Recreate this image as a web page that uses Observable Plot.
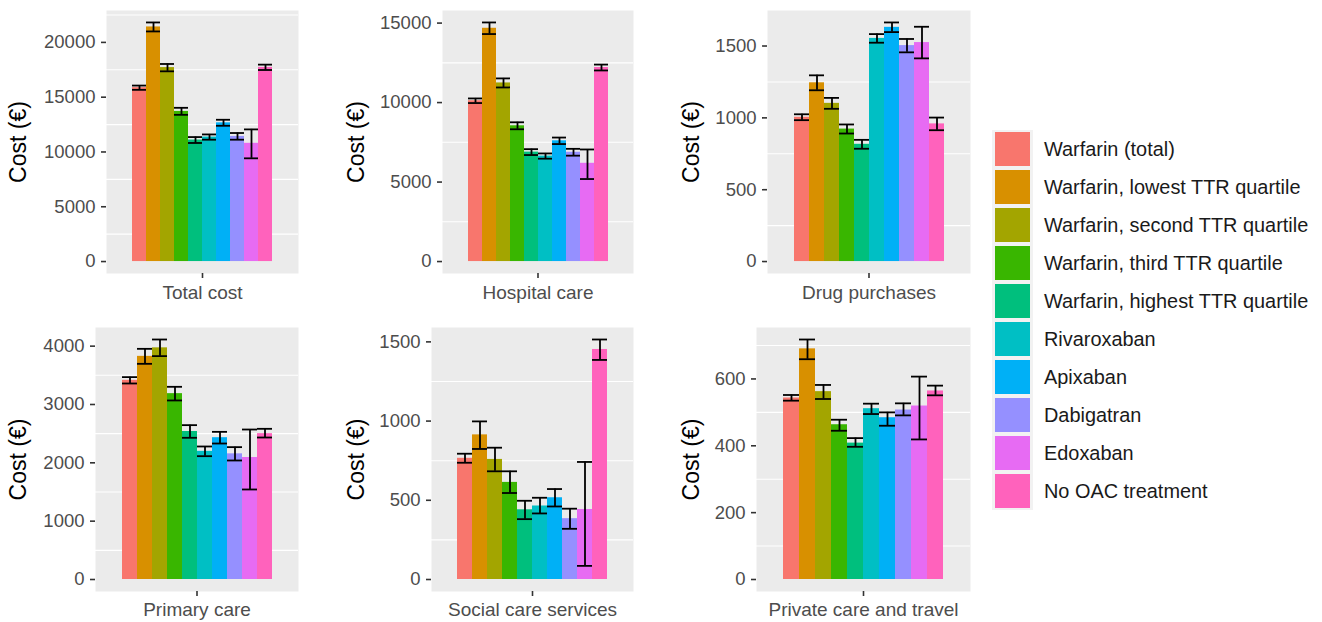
<!DOCTYPE html>
<html><head><meta charset="utf-8">
<script src="https://cdn.jsdelivr.net/npm/d3@7"></script>
<script src="https://cdn.jsdelivr.net/npm/@observablehq/plot@0.6"></script>
<style>
body{margin:0;background:#fff;font-family:"Liberation Sans",Arial,Helvetica,sans-serif;}
#wrap{position:relative;width:1322px;height:622px;overflow:hidden;}
.cell{position:absolute;}
.cell svg{background:transparent !important;overflow:visible;}
#legend{position:absolute;left:992px;top:130px;}
.item{display:flex;align-items:center;height:38px;}
.key{width:41px;height:38px;background:#f2f2f2;display:flex;align-items:center;justify-content:center;}
.sw{width:35px;height:34px;}
.lab{margin-left:11px;font-size:19.9px;color:#1a1a1a;white-space:nowrap;}
</style></head><body><div id="wrap"></div>
<script>
// ---- data ----
const series = ["Warfarin (total)", "Warfarin, lowest TTR quartile", "Warfarin, second TTR quartile",
  "Warfarin, third TTR quartile", "Warfarin, highest TTR quartile", "Rivaroxaban", "Apixaban",
  "Dabigatran", "Edoxaban", "No OAC treatment"];
const colors = ["#F8766D", "#D89000", "#A3A500", "#39B600", "#00BF7D", "#00BFC4", "#00B0F6", "#9590FF", "#E76BF3", "#FF62BC"];
const categories = ["Total cost", "Hospital care", "Drug purchases", "Primary care", "Social care services", "Private care and travel"];

const meanTotal = [15870, 21410, 17700, 13700, 11090, 11360, 12660, 11420, 10790, 17720];
const loTotal   = [15670, 21000, 17360, 13390, 10820, 11120, 12390, 11120, 9420, 17480];
const hiTotal   = [16060, 21820, 18030, 14030, 11360, 11600, 12940, 11730, 12060, 17970];

const meanHospital = [10115, 14675, 11235, 8540, 6885, 6635, 7595, 6875, 6180, 12205];
const loHospital   = [9970, 14310, 10950, 8320, 6700, 6470, 7390, 6660, 5190, 12020];
const hiHospital   = [10260, 15040, 11520, 8760, 7070, 6800, 7800, 7090, 7050, 12390];

const meanDrug = [1004, 1244, 1101, 922, 816, 1553, 1630, 1503, 1524, 958];
const loDrug   = [984, 1192, 1063, 891, 785, 1523, 1597, 1456, 1414, 914];
const hiDrug   = [1025, 1296, 1139, 954, 847, 1583, 1664, 1549, 1634, 1002];

const meanPrimary = [3414, 3825, 3971, 3186, 2537, 2197, 2431, 2154, 2091, 2500];
const loPrimary   = [3360, 3697, 3829, 3069, 2429, 2114, 2331, 2040, 1543, 2434];
const hiPrimary   = [3469, 3954, 4114, 3303, 2646, 2280, 2531, 2269, 2571, 2583];

const meanSocial = [765, 913, 758, 613, 440, 464, 516, 384, 442, 1452];
const loSocial   = [737, 824, 683, 546, 381, 417, 461, 320, 86, 1386];
const hiSocial   = [794, 998, 832, 683, 497, 516, 571, 447, 742, 1515];

const meanPrivate = [543, 690, 562, 463, 408, 511, 484, 507, 519, 564];
const loPrivate   = [535, 659, 540, 445, 397, 495, 460, 491, 419, 551];
const hiPrivate   = [552, 718, 582, 478, 423, 526, 500, 527, 607, 580];

const ticksTotal = [0, 5000, 10000, 15000, 20000];
const gridTotal = [2500, 7500, 12500, 17500, 22500];
const ticksHospital = [0, 5000, 10000, 15000];
const gridHospital = [2500, 7500, 12500];
const ticksDrug = [0, 500, 1000, 1500];
const gridDrug = [250, 750, 1250];
const ticksPrimary = [0, 1000, 2000, 3000, 4000];
const gridPrimary = [500, 1500, 2500, 3500];
const ticksSocial = [0, 500, 1000, 1500];
const gridSocial = [250, 750, 1250];
const ticksPrivate = [0, 200, 400, 600];
const gridPrivate = [100, 300, 500, 700];

// ---- layout ----
const FONT = "'Liberation Sans', Arial, Helvetica, sans-serif";
const panels = [
  {cat: categories[0], mean: meanTotal, lo: loTotal, hi: hiTotal, ticks: ticksTotal, grid: gridTotal,
   box: {left: 0, top: 0, width: 330, height: 310, ml: 106, mr: 32, mt: 10, mb: 37, pad: 7, tx: 18.5}},
  {cat: categories[1], mean: meanHospital, lo: loHospital, hi: hiHospital, ticks: ticksHospital, grid: gridHospital,
   box: {left: 330, top: 0, width: 335, height: 310, ml: 112, mr: 32, mt: 10, mb: 37, pad: 7, tx: 26.5}},
  {cat: categories[2], mean: meanDrug, lo: loDrug, hi: hiDrug, ticks: ticksDrug, grid: gridDrug,
   box: {left: 665, top: 0, width: 320, height: 310, ml: 102, mr: 15, mt: 10, mb: 37, pad: 7, tx: 26.5}},
  {cat: categories[3], mean: meanPrimary, lo: loPrimary, hi: hiPrimary, ticks: ticksPrimary, grid: gridPrimary,
   box: {left: 0, top: 310, width: 330, height: 312, ml: 95, mr: 32, mt: 17, mb: 31, pad: 6, tx: 18.5}},
  {cat: categories[4], mean: meanSocial, lo: loSocial, hi: hiSocial, ticks: ticksSocial, grid: gridSocial,
   box: {left: 330, top: 310, width: 335, height: 312, ml: 101, mr: 32, mt: 17, mb: 31, pad: 6, tx: 26.5}},
  {cat: categories[5], mean: meanPrivate, lo: loPrivate, hi: hiPrivate, ticks: ticksPrivate, grid: gridPrivate,
   box: {left: 665, top: 310, width: 320, height: 312, ml: 91, mr: 15, mt: 17, mb: 31, pad: 6, tx: 26.5}}
];

const wrap = document.getElementById("wrap");

for (const p of panels) {
  const b = p.box;
  const rows = series.map((s, i) => ({series: s, mean: p.mean[i], lo: p.lo[i], hi: p.hi[i], category: p.cat}));
  const ymax = d3.max(p.hi);
  const pw = b.width - b.ml - b.mr;
  const chart = Plot.plot({
    width: b.width, height: b.height,
    marginLeft: b.ml, marginRight: b.mr, marginTop: b.mt, marginBottom: b.mb,
    style: {background: "transparent", fontFamily: FONT, overflow: "visible"},
    facet: {data: rows, x: "category"},
    fx: {padding: 0, domain: [p.cat]},
    x: {domain: series, padding: 0, insetLeft: pw * 0.125, insetRight: pw * 0.125, axis: null},
    y: {domain: [-0.05 * ymax, 1.05 * ymax]},
    color: {domain: series, range: colors},
    marks: [
      Plot.frame({fill: "#EBEBEB"}),
      Plot.ruleY(p.grid, {stroke: "white", strokeWidth: 1.1}),
      Plot.barY(rows, {x: "series", y: "mean", fill: "series"}),
      Plot.ruleX(rows, {x: "series", y1: "lo", y2: "hi", stroke: "black", strokeWidth: 1.8}),
      Plot.tickY(rows, {x: "series", y: "lo", stroke: "black", strokeWidth: 1.8}),
      Plot.tickY(rows, {x: "series", y: "hi", stroke: "black", strokeWidth: 1.8}),
      Plot.axisY(p.ticks, {tickSize: 5, tickPadding: 6, stroke: "#333333", strokeWidth: 1.6,
        fill: "#4D4D4D", fontSize: 18.5, label: null, tickFormat: d => String(d)}),
      Plot.axisFx({anchor: "bottom", tickSize: 5, tickPadding: b.pad, stroke: "#333333", strokeWidth: 1.6,
        fill: "#4D4D4D", fontSize: 19, label: null}),
      Plot.text(["Cost (€)"], {frameAnchor: "left", rotate: -90, dx: -(b.ml - b.tx), lineAnchor: "middle",
        textAnchor: "middle", fontSize: 23, fill: "black"})
    ]
  });
  const div = document.createElement("div");
  div.className = "cell";
  div.style.left = b.left + "px";
  div.style.top = b.top + "px";
  div.appendChild(chart);
  wrap.appendChild(div);
}

// ---- legend ----
const legend = document.createElement("div");
legend.id = "legend";
series.forEach((s, i) => {
  const item = document.createElement("div");
  item.className = "item";
  const key = document.createElement("div");
  key.className = "key";
  const sw = document.createElement("div");
  sw.className = "sw";
  sw.style.background = colors[i];
  key.appendChild(sw);
  const lab = document.createElement("div");
  lab.className = "lab";
  lab.textContent = s;
  item.appendChild(key);
  item.appendChild(lab);
  legend.appendChild(item);
});
wrap.appendChild(legend);
</script></body></html>
